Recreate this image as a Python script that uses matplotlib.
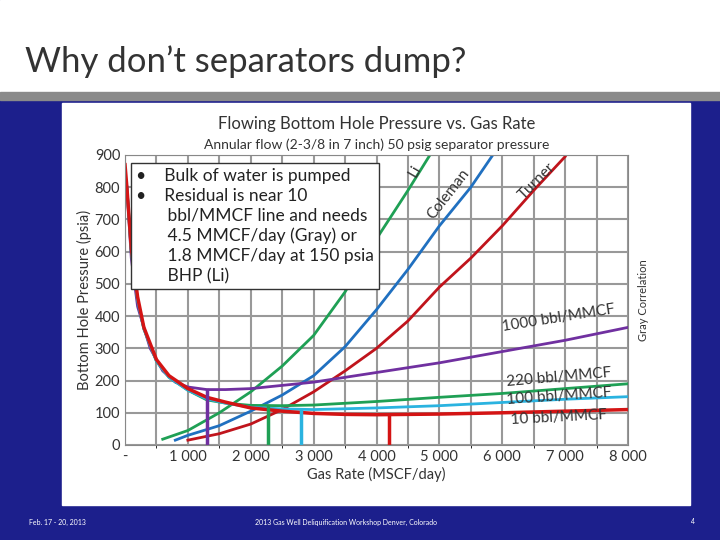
import matplotlib
matplotlib.use("Agg")
import matplotlib.pyplot as plt
from matplotlib.patches import Rectangle

plt.rcParams['font.family'] = ['Lato', 'DejaVu Sans']

# shared steep decline branch (MSCF/day, psia)
head_x = [30, 100, 200, 300, 500, 700, 1000]
head_y = [800, 600, 450, 360, 260, 210, 170]

wc1000_x = [30, 100, 200, 400, 600, 800, 1000, 1300, 1600, 2000, 3000, 4000, 5000, 6000, 7000, 8000]
wc1000_y = [800, 580, 430, 300, 230, 195, 180, 172, 172, 175, 195, 225, 255, 290, 325, 365]
wc220_x = head_x + [1300, 1600, 2000, 2500, 3000, 4000, 5000, 6000, 7000, 8000]
wc220_y = head_y + [140, 130, 123, 122, 124, 135, 148, 160, 175, 190]
wc100_x = head_x + [1300, 1600, 2000, 2500, 3000, 4000, 5000, 6000, 7000, 8000]
wc100_y = head_y + [143, 130, 117, 112, 110, 115, 122, 132, 142, 150]
wc10_x = [0, 30, 100, 200, 300, 500, 700, 1000, 1300, 1600, 2000, 2500, 3000, 3500, 4000, 5000, 6000, 7000, 8000]
wc10_y = [870, 800, 610, 460, 365, 265, 215, 175, 148, 133, 115, 105, 98, 95, 94, 96, 100, 105, 110]

li_x = [600, 1000, 1500, 2000, 2500, 3000, 3500, 4000, 4500, 4850]
li_y = [18, 45, 100, 165, 245, 340, 475, 640, 790, 900]
coleman_x = [800, 1000, 1500, 2000, 2500, 3000, 3500, 4000, 4500, 5000, 5500, 5850]
coleman_y = [15, 30, 60, 105, 155, 215, 305, 420, 545, 680, 800, 900]
turner_x = [1000, 1500, 2000, 2500, 3000, 3500, 4000, 4500, 5000, 5500, 6000, 6500, 7000]
turner_y = [15, 35, 65, 110, 165, 230, 300, 385, 490, 580, 680, 790, 895]

# critical rates (where Gray meets each water-cut curve)
crit_x = [1300, 2280, 2800, 4200]
crit_y = [172, 122, 110, 94]

PURPLE, GREEN, CYAN, RED, BLUE = "#7030a0", "#1fa055", "#2ab3e0", "#d41414", "#2070c0"

fig = plt.figure(figsize=(7.2, 5.4), dpi=100)
fig.patch.set_facecolor("#1c1f8c")
fig.add_artist(Rectangle((0, 1 - 92/540), 1, 92/540, transform=fig.transFigure,
                         color="white", zorder=-10))
fig.add_artist(Rectangle((0, 1 - 100/540), 1, 8/540, transform=fig.transFigure,
                         color="#8a8a8a", zorder=-10))
fig.add_artist(Rectangle((62/720, 1 - 505/540), 628/720, 402/540, transform=fig.transFigure,
                         color="white", zorder=-10))
fig.text(0.035, 1 - 62/540, "Why don\u2019t separators dump?", fontsize=25, color="#333333",
         va="center")
fig.text(0.04, 1 - 522/540, "Feb. 17 - 20, 2013", fontsize=5, color="white", va="center")
fig.text(0.48, 1 - 522/540, "2013 Gas Well Deliquification Workshop Denver, Colorado",
         fontsize=5, color="white", va="center", ha="center")
fig.text(0.96, 1 - 522/540, "4", fontsize=5, color="white", va="center")

ax = fig.add_axes([125/720, 1 - 445/540, 503/720, 290/540])
ax.patch.set_alpha(0)
ax.set_xlim(0, 8000)
ax.set_ylim(0, 900)
ax.set_xticks(range(0, 8001, 1000))
ax.set_xticklabels(["-", "1 000", "2 000", "3 000", "4 000", "5 000", "6 000", "7 000", "8 000"])
ax.set_xticks(range(500, 8000, 1000), minor=True)
ax.set_yticks(range(0, 901, 100))
ax.set_yticklabels(["0", "100", "200", "300", "400", "500", "600", "700", "800", "900"])
ax.grid(True, which="both", color="#999999", lw=1.5)
ax.set_axisbelow(True)
for s in ax.spines.values():
    s.set_color("#888888")
ax.tick_params(labelsize=10.5, colors="#333333", length=0)
ax.set_xlabel("Gas Rate (MSCF/day)", fontsize=10.5, color="#333333", labelpad=2)
ax.set_ylabel("Bottom Hole Pressure (psia)", fontsize=10.5, color="#333333", labelpad=2)

ax.plot(li_x, li_y, color=GREEN, lw=2)
ax.plot(coleman_x, coleman_y, color=BLUE, lw=2)
ax.plot(turner_x, turner_y, color="#c0141c", lw=2)
ax.plot(wc1000_x, wc1000_y, color=PURPLE, lw=2)
ax.plot(wc220_x, wc220_y, color=GREEN, lw=2)
ax.plot(wc100_x, wc100_y, color=CYAN, lw=2)
ax.plot(wc10_x, wc10_y, color=RED, lw=2.5)
for cx, cy, c in zip(crit_x, crit_y, [PURPLE, GREEN, CYAN, RED]):
    ax.plot([cx, cx], [0, cy], color=c, lw=2.5)

kw = dict(fontsize=11, color="#333333")
ax.text(6900, 395, "1000 bbl/MMCF", rotation=9, ha="center", va="center", **kw)
ax.text(6900, 210, "220 bbl/MMCF", rotation=5, ha="center", va="center", **kw)
ax.text(6900, 150, "100 bbl/MMCF", rotation=4, ha="center", va="center", **kw)
ax.text(6900, 85, "10 bbl/MMCF", rotation=3, ha="center", va="center", **kw)
ax.text(8250, 450, "Gray Correlation", rotation=90, ha="center", va="center", fontsize=8,
        color="#333333")
ax.text(4620, 850, "Li", rotation=60, ha="center", va="center", **kw)
ax.text(5150, 780, "Coleman", rotation=52, ha="center", va="center", **kw)
ax.text(6550, 820, "Turner", rotation=45, ha="center", va="center", **kw)

ax.text(0.5, 1.09, "Flowing Bottom Hole Pressure vs. Gas Rate", transform=ax.transAxes,
        ha="center", fontsize=12, color="#333333")
ax.text(0.5, 1.02, "Annular flow (2-3/8 in 7 inch) 50 psig separator pressure",
        transform=ax.transAxes, ha="center", fontsize=10, color="#333333")

ax.text(180, 860,
        "\u2022    Bulk of water is pumped\n"
        "\u2022    Residual is near 10\n"
        "       bbl/MMCF line and needs\n"
        "       4.5 MMCF/day (Gray) or\n"
        "       1.8 MMCF/day at 150 psia\n"
        "       BHP (Li)",
        ha="left", va="top", fontsize=12.5, color="#222222", linespacing=1.3,
        bbox=dict(facecolor="white", edgecolor="#333333", boxstyle="square,pad=0.3"), zorder=5)

fig.savefig("out.png", dpi=100, facecolor=fig.get_facecolor())
